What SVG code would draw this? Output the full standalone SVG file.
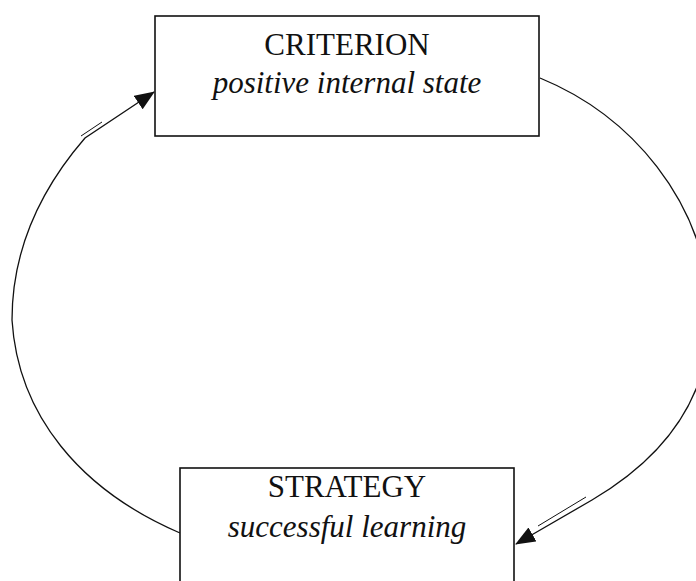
<svg xmlns="http://www.w3.org/2000/svg" width="696" height="581" viewBox="0 0 696 581">
  <style>
    .box { fill: #ffffff; stroke: #111111; stroke-width: 1.6; }
    .title { font-family: "Liberation Serif", "Times New Roman", serif; font-size: 31px; fill: #111111; text-anchor: middle; }
    .sub { font-family: "Liberation Serif", "Times New Roman", serif; font-size: 31px; font-style: italic; fill: #111111; text-anchor: middle; }
    .link { fill: none; stroke: #111111; stroke-width: 1.3; }
    .trace { fill: none; stroke: #111111; stroke-width: 1; }
  </style>
  <defs>
    <marker id="arrow" markerUnits="userSpaceOnUse" markerWidth="22" markerHeight="18" refX="19" refY="8" orient="auto">
      <path d="M0,0 L20,8 L0,16 Z" fill="#111111"/>
    </marker>
  </defs>
  <rect width="696" height="581" fill="#ffffff"/>

  <g id="connectors">
    <!-- criterion -> strategy, around the right side -->
    <path class="link" d="M540,78 C630,115 705,200 710,310 C712,400 660,460 592,500 L516,544" marker-end="url(#arrow)"/>
    <line class="trace" x1="586" y1="497" x2="538" y2="526"/>
    <!-- strategy -> criterion, around the left side -->
    <path class="link" d="M180,533 C80,490 18,415 12,320 C12,250 40,190 85,138 L154,92" marker-end="url(#arrow)"/>
    <line class="trace" x1="81" y1="136" x2="102" y2="122"/>
  </g>

  <g id="criterion">
    <rect class="box" x="155" y="16" width="384" height="120"/>
    <text class="title" x="347" y="55">CRITERION</text>
    <text class="sub" x="347" y="93">positive internal state</text>
  </g>

  <g id="strategy">
    <rect class="box" x="180" y="468" width="334" height="140"/>
    <text class="title" x="347" y="497">STRATEGY</text>
    <text class="sub" x="347" y="537">successful learning</text>
  </g>
</svg>
